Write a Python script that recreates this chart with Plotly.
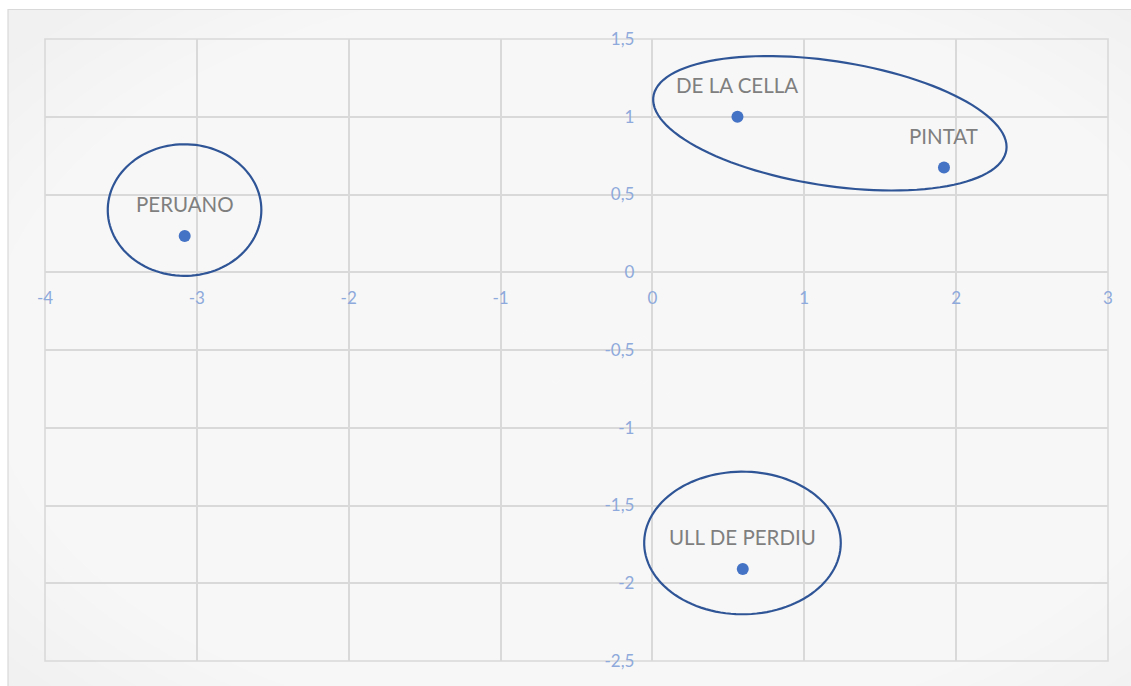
import numpy as np
import plotly.graph_objects as go

# Varieties and their coordinates on the two components
names = ["PERUANO", "DE LA CELLA", "PINTAT", "ULL DE PERDIU"]
x_vals = [-3.08, 0.56, 1.92, 0.595]
y_vals = [0.233, 1.0, 0.673, -1.908]

# Axis ticks (labels use a decimal comma)
x_ticks = [-4, -3, -2, -1, 0, 1, 2, 3]
x_tick_labels = ["-4", "-3", "-2", "-1", "0", "1", "2", "3"]
y_ticks = [1.5, 1, 0.5, 0, -0.5, -1, -1.5, -2, -2.5]
y_tick_labels = ["1,5", "1", "0,5", "0", "-0,5", "-1", "-1,5", "-2", "-2,5"]

# Figure geometry (pixels)
W, H = 1131, 686
ML, MR, MT, MB = 45, 23, 39, 25
PW, PH = W - ML - MR, H - MT - MB
X_RANGE = (-4, 3)
Y_RANGE = (-2.5, 1.5)
SX = PW / (X_RANGE[1] - X_RANGE[0])  # px per x unit
SY = PH / (Y_RANGE[1] - Y_RANGE[0])  # px per y unit

GRID = "#D9D9D9"
TICK_COLOR = "#8EA9DB"
LABEL_COLOR = "#7F7F7F"
DOT_COLOR = "#4472C4"
RING_COLOR = "#2F5597"
FONT = "Lato"


def px_x(px):
    return (px - ML) / PW


def px_y(py):
    return (H - MB - py) / PH


def ellipse_path(cx, cy, a_px, b_px, angle_deg, n=120):
    """Closed ellipse in data coordinates; radii and tilt given on screen."""
    t = np.linspace(0, 2 * np.pi, n)
    th = np.radians(angle_deg)
    dx = a_px * np.cos(th) * np.cos(t) - b_px * np.sin(th) * np.sin(t)
    dy = a_px * np.sin(th) * np.cos(t) + b_px * np.cos(th) * np.sin(t)
    xs = cx + dx / SX
    ys = cy - dy / SY
    pts = [f"{x:.4f},{y:.4f}" for x, y in zip(xs, ys)]
    return "M " + " L ".join(pts) + " Z"


fig = go.Figure()

fig.add_trace(go.Scatter(
    x=x_vals, y=y_vals, mode="markers",
    marker=dict(size=12, color=DOT_COLOR),
    hoverinfo="text", text=names, showlegend=False,
))

shapes = []

# Chart area background: light grey frame with a soft radial highlight
shapes.append(dict(
    type="rect", xref="paper", yref="paper", layer="below",
    x0=px_x(8), x1=px_x(W + 5), y0=px_y(H + 5), y1=px_y(9.5),
    fillcolor="#F1F1F1", line=dict(width=0),
))
N_RINGS = 26
cxp, cyp = 600, 360
for k in range(N_RINGS):
    f = 1 - k / N_RINGS
    rx, ry = 760 * f, 470 * f
    shapes.append(dict(
        type="circle", xref="paper", yref="paper", layer="below",
        x0=px_x(cxp - rx), x1=px_x(cxp + rx),
        y0=px_y(cyp + ry), y1=px_y(cyp - ry),
        fillcolor="rgba(255,255,255,0.11)", line=dict(width=0),
    ))
shapes.append(dict(
    type="rect", xref="paper", yref="paper", layer="below",
    x0=px_x(8), x1=px_x(W + 5), y0=px_y(H + 5), y1=px_y(9.5),
    fillcolor="rgba(0,0,0,0)", line=dict(width=1.2, color=GRID),
))

# Outer gridline box around the plotting area
shapes.append(dict(
    type="rect", xref="paper", yref="paper", layer="below",
    x0=0, x1=1, y0=0, y1=1,
    fillcolor="rgba(0,0,0,0)", line=dict(width=1.6, color=GRID),
))

# Group outlines
groups = [
    # cx, cy (data), semi-axes (px), tilt (deg)
    (-3.081, 0.40, 76.8, 65.8, 0),
    (1.1685, 0.958, 178.5, 62.3, 8.7),
    (0.593, -1.741, 98.3, 71.3, 0),
]
for cx, cy, a, b, ang in groups:
    shapes.append(dict(
        type="path", xref="x", yref="y", layer="above",
        path=ellipse_path(cx, cy, a, b, ang),
        line=dict(color=RING_COLOR, width=2.2),
        fillcolor="rgba(0,0,0,0)",
    ))

annotations = []
for name, x, y in zip(names, x_vals, y_vals):
    annotations.append(dict(
        x=x, y=y, xref="x", yref="y", text=name, showarrow=False,
        yshift=32, yanchor="middle", xanchor="center",
        font=dict(family=FONT, size=20.5, color=LABEL_COLOR),
    ))

fig.update_layout(
    width=W, height=H,
    margin=dict(l=ML, r=MR, t=MT, b=MB, pad=0),
    paper_bgcolor="white",
    plot_bgcolor="rgba(0,0,0,0)",
    shapes=shapes,
    annotations=annotations,
    xaxis=dict(
        range=list(X_RANGE), tickvals=x_ticks, ticktext=x_tick_labels,
        showgrid=True, gridcolor=GRID, gridwidth=1.6,
        zeroline=False, showline=False, ticks="",
        anchor="free", position=(0 - Y_RANGE[0]) / (Y_RANGE[1] - Y_RANGE[0]),
        tickfont=dict(family=FONT, size=17, color=TICK_COLOR),
        ticklabelstandoff=14,
        fixedrange=True,
    ),
    yaxis=dict(
        range=list(Y_RANGE), tickvals=y_ticks, ticktext=y_tick_labels,
        showgrid=True, gridcolor=GRID, gridwidth=1.6,
        zeroline=False, showline=False, ticks="",
        anchor="free", position=(0 - X_RANGE[0]) / (X_RANGE[1] - X_RANGE[0]),
        tickfont=dict(family=FONT, size=17, color=TICK_COLOR),
        ticklabelstandoff=18,
        fixedrange=True,
    ),
)

fig.write_html("out.html")
